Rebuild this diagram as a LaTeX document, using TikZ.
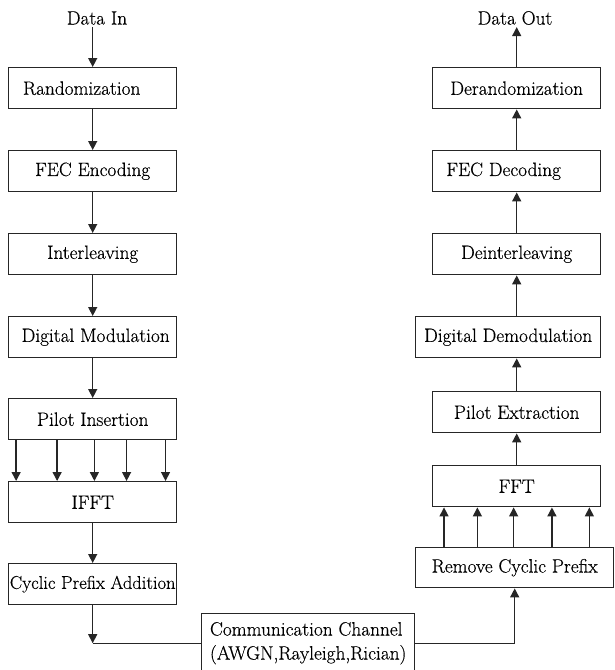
\documentclass[tikz,border=0pt]{standalone}
\usepackage{fontspec}
\setmainfont{Latin Modern Roman}[FakeBold=0.4]
\usetikzlibrary{arrows.meta,calc}
\begin{document}
\begin{tikzpicture}[x=1pt,y=-1pt,
  blk/.style={draw=black!85, line width=1.4pt, minimum width=168pt, minimum height=41pt,
    inner sep=0pt, anchor=north west, font=\rmfamily\fontsize{19.3}{24}\selectfont},
  lbl/.style={inner sep=2pt, font=\rmfamily\fontsize{19.3}{24}\selectfont},
  arr/.style={draw=black!85, line width=1.4pt, -{Triangle[length=9pt,width=9pt]}},
  ln/.style={draw=black!85, line width=1.4pt}]
\useasboundingbox (0,0) rectangle (614,670);
% transmitter
\node[lbl] (in) at (97,18) {Data In};
\node[blk] (rand) at (8,67) {Randomization\hspace*{22pt}};
\node[blk] (fece) at (8,150) {FEC Encoding};
\node[blk] (intl) at (8,233) {Interleaving};
\node[blk] (dmod) at (8,316) {\hspace*{6pt}Digital Modulation};
\node[blk] (pilot) at (8,398) {Pilot Insertion};
\node[blk] (ifft) at (8,481) {IFFT};
\node[blk, font=\rmfamily\fontsize{18.5}{24}\selectfont] (cpa) at (8,563) {Cyclic Prefix Addition};
% channel
\node[blk, minimum width=213pt, minimum height=59pt, align=left] (chan) at (201,613)
  {Communication Channel\\(AWGN,Rayleigh,Rician)};
% receiver
\node[lbl] (out) at (515,18) {Data Out};
\node[blk] (derand) at (432,67) {Derandomization};
\node[blk] (fecd) at (432,150) {FEC Decoding\hspace*{26pt}};
\node[blk] (deint) at (432,233) {Deinterleaving};
\node[blk, minimum width=185pt] (ddemod) at (415,316) {Digital Demodulation};
\node[blk] (pext) at (432,391) {Pilot Extraction};
\node[blk] (fft) at (432,465) {FFT};
\node[blk, minimum width=198pt, minimum height=40pt] (rcp) at (415,547) {Remove Cyclic Prefix};
% transmitter connectors
\draw[arr] (in.south -| rand.north) -- (rand.north);
\draw[arr] (rand) -- (fece);
\draw[arr] (fece) -- (intl);
\draw[arr] (intl) -- (dmod);
\draw[arr] (dmod) -- (pilot);
\foreach \f in {0.048,0.29,0.51,0.70,0.93}
  \draw[arr] ($(pilot.south west)!\f!(pilot.south east)$) -- ($(ifft.north west)!\f!(ifft.north east)$);
\draw[arr] (ifft) -- (cpa);
\coordinate (j) at (cpa.south |- chan.west);
\draw[arr] (cpa.south) -- (j);
\draw[ln] (chan.west) -- (j);
% channel to receiver
\draw[arr] (chan.east) -| (rcp.south);
\foreach \f in {0.071,0.268,0.482,0.708,0.929} {
  \coordinate (p) at ($(fft.south west)!\f!(fft.south east)$);
  \draw[arr] (rcp.north -| p) -- (p);
}
\draw[arr] (fft) -- (pext);
\draw[arr] (pext) -- (ddemod.south -| pext.north);
\draw[arr] (ddemod.north -| deint.south) -- (deint.south);
\draw[arr] (deint) -- (fecd);
\draw[arr] (fecd) -- (derand);
\draw[arr] (derand.north) -- (derand.north |- out.south);
\end{tikzpicture}
\end{document}
